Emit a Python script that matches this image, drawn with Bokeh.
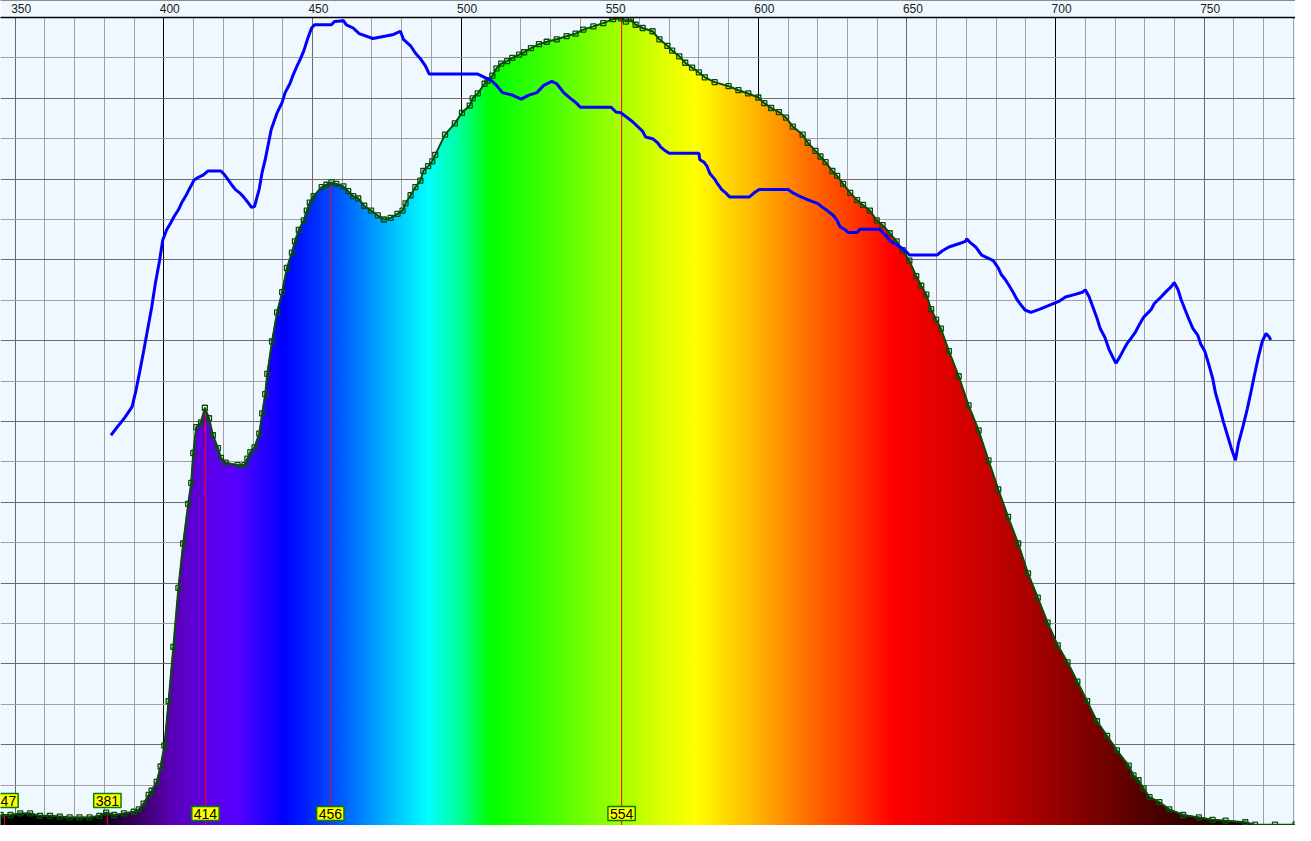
import numpy as np
from bokeh.plotting import figure
from bokeh.models import Range1d, FixedTicker, Grid, LinearAxis, Label
from bokeh.embed import file_html
from bokeh.resources import INLINE

# ---------------- data ----------------
spec_nm = [
    345.1, 348.4, 351.7, 355.0, 358.3, 361.7, 365.0, 368.3, 371.6, 375.0,
    378.3, 380.6, 383.3, 386.6, 389.9, 391.6, 393.2, 394.9, 395.9, 397.6,
    398.9, 400.2, 401.6, 403.2, 404.9, 406.5, 408.2, 409.2, 409.9, 410.9,
    412.5, 413.8, 415.2, 416.5, 418.2, 419.2, 420.8, 424.8, 427.1, 428.1,
    429.1, 430.5, 432.1, 433.1, 434.1, 434.8, 436.4, 438.1, 439.8, 441.4,
    443.1, 444.1, 445.4, 447.1, 448.1, 449.1, 450.4, 453.1, 454.7, 456.4,
    458.0, 460.4, 462.0, 463.7, 465.4, 467.4, 469.7, 472.0, 474.0, 476.3,
    478.6, 480.3, 481.3, 483.0, 484.6, 486.3, 487.3, 488.9, 490.3, 491.3,
    494.6, 497.9, 500.3, 502.9, 503.9, 505.6, 507.9, 508.9, 510.5, 511.9,
    513.5, 515.5, 517.2, 519.5, 521.2, 523.5, 526.2, 528.8, 532.2, 535.5,
    538.5, 541.1, 544.5, 547.8, 551.1, 553.8, 555.4, 557.1, 558.7, 561.1,
    564.4, 566.7, 569.4, 571.0, 573.4, 575.4, 577.7, 580.0, 582.0, 585.3,
    590.0, 593.3, 596.6, 600.0, 602.0, 604.3, 606.9, 609.3, 611.6, 614.9,
    616.6, 619.2, 620.9, 622.6, 624.9, 626.5, 628.5, 630.9, 633.2, 635.2,
    637.5, 639.8, 641.8, 644.2, 646.5, 648.5, 650.8, 653.1, 654.8, 656.5,
    658.1, 659.8, 661.4, 664.1, 667.4, 670.7, 674.1, 677.4, 680.7, 684.0,
    687.4, 690.7, 694.0, 697.3, 700.7, 704.0, 707.3, 710.6, 713.9, 717.3,
    720.6, 724.6, 726.2, 727.9, 729.6, 731.6, 734.9, 738.2, 742.9, 748.2,
    752.8, 757.2, 763.8, 767.1, 773.8, 780.7,
]
spec_val = [
    1.3, 1.3, 1.5, 1.5, 1.2, 1.2, 1.1, 1.0, 1.0, 1.0,
    1.2, 1.6, 1.3, 1.5, 1.7, 2.0, 2.7, 3.8, 4.3, 5.4,
    7.3, 9.9, 15.4, 22.1, 29.4, 34.9, 39.8, 42.4, 46.1, 49.3,
    49.9, 51.7, 50.4, 48.3, 46.7, 45.5, 44.9, 44.6, 44.6, 45.4,
    46.2, 46.8, 48.5, 51.0, 53.4, 55.9, 59.9, 63.5, 66.0, 69.0,
    70.9, 72.3, 73.7, 74.9, 76.1, 77.1, 77.9, 79.0, 79.3, 79.6,
    79.4, 79.1, 78.5, 77.9, 77.6, 76.7, 76.1, 75.5, 75.0, 75.2,
    75.7, 76.1, 77.0, 78.0, 79.0, 79.8, 81.0, 81.6, 82.2, 83.0,
    85.5, 86.9, 88.2, 89.1, 90.0, 90.6, 91.8, 92.2, 92.8, 93.7,
    94.3, 94.6, 95.0, 95.4, 95.7, 96.2, 96.7, 97.0, 97.3, 97.7,
    98.0, 98.5, 98.9, 99.3, 99.8, 99.9, 99.5, 99.8, 99.1, 98.7,
    98.3, 97.3, 96.5, 95.9, 95.2, 94.4, 93.8, 93.2, 92.6, 92.0,
    91.5, 91.0, 90.6, 90.1, 89.4, 88.8, 88.3, 87.6, 86.5, 85.5,
    84.5, 83.5, 82.8, 82.1, 81.0, 80.4, 79.4, 78.3, 77.4, 76.8,
    76.1, 74.9, 74.3, 73.3, 72.3, 71.2, 69.9, 68.0, 66.8, 65.7,
    63.9, 62.6, 61.5, 58.7, 55.6, 52.0, 48.9, 45.2, 41.6, 38.2,
    34.9, 31.2, 28.2, 25.1, 22.3, 20.2, 17.8, 15.4, 12.9, 11.1,
    9.3, 7.4, 6.2, 5.6, 4.6, 3.5, 2.9, 2.0, 1.3, 1.0,
    0.7, 0.6, 0.4, 0.1, 0.1, 0.1,
]

ref_nm = [
    382.2, 384.3, 386.9, 389.3, 390.6, 391.9, 393.2, 394.6, 395.9, 397.2,
    398.6, 399.6, 400.9, 402.2, 403.5, 404.9, 406.2, 407.5, 408.9, 410.2,
    411.5, 413.2, 414.8, 419.2, 420.5, 421.5, 422.8, 424.1, 425.5, 426.8,
    428.1, 429.5, 430.5, 432.1, 433.1, 434.1, 436.1, 438.1, 439.8, 440.8,
    442.4, 443.4, 444.8, 446.1, 447.1, 448.4, 449.7, 450.7, 456.4, 457.4,
    460.4, 461.4, 463.7, 465.7, 470.3, 474.7, 477.3, 479.6, 480.6, 483.0,
    484.6, 486.3, 488.0, 489.3, 505.6, 507.9, 510.2, 511.9, 513.9, 517.2,
    520.2, 522.8, 525.5, 527.8, 530.5, 532.2, 534.5, 536.8, 538.8, 540.1,
    550.4, 552.1, 553.8, 557.7, 561.1, 562.1, 564.4, 566.1, 567.1, 568.7,
    570.0, 580.0, 580.3, 581.7, 582.7, 583.7, 585.3, 586.3, 587.7, 589.3,
    590.3, 597.0, 598.6, 600.3, 610.0, 611.6, 614.3, 617.6, 619.9, 621.6,
    623.2, 625.2, 626.5, 627.5, 628.9, 630.2, 633.2, 634.2, 640.8, 641.8,
    643.2, 644.2, 645.8, 648.1, 649.8, 650.8, 660.1, 661.8, 664.1, 667.4,
    669.7, 670.1, 671.4, 673.1, 674.1, 675.1, 677.4, 679.0, 680.7, 681.7,
    683.0, 684.4, 685.7, 687.0, 688.4, 689.7, 691.7, 694.7, 698.0, 701.3,
    703.3, 706.3, 709.0, 710.0, 711.3, 712.6, 714.0, 715.0, 716.6, 717.9,
    719.3, 720.3, 721.6, 722.9, 724.3, 725.6, 726.9, 728.2, 729.6, 731.2,
    732.2, 733.2, 734.9, 736.2, 737.5, 738.9, 739.9, 741.2, 742.2, 743.5,
    744.9, 746.2, 747.8, 748.8, 750.2, 751.5, 752.8, 753.8, 755.2, 756.5,
    757.8, 759.1, 760.5, 761.5, 763.1, 764.5, 765.8, 766.8, 768.1, 769.5,
    770.8, 771.8, 772.4,
]
ref_val = [
    48.3, 49.3, 50.5, 51.8, 53.8, 56.2, 58.7, 61.5, 64.1, 67.2,
    70.0, 72.4, 73.7, 74.5, 75.4, 76.2, 77.2, 78.0, 79.0, 79.9,
    80.2, 80.5, 81.0, 81.0, 80.5, 80.0, 79.3, 78.7, 78.3, 77.8,
    77.2, 76.5, 76.6, 78.8, 80.9, 82.4, 86.1, 88.2, 89.5, 90.7,
    91.8, 92.8, 94.0, 95.0, 95.9, 97.4, 98.7, 99.1, 99.1, 99.5,
    99.6, 99.1, 98.7, 98.0, 97.4, 97.7, 97.9, 98.3, 97.3, 96.5,
    95.6, 94.9, 94.0, 93.0, 93.0, 92.6, 92.2, 91.6, 90.7, 90.4,
    89.9, 90.4, 90.7, 91.6, 92.1, 91.8, 90.7, 90.0, 89.4, 88.9,
    88.9, 88.3, 88.2, 87.1, 85.9, 85.2, 85.0, 84.5, 84.0, 83.5,
    83.2, 83.2, 82.4, 82.1, 81.6, 80.7, 80.0, 79.4, 78.7, 78.2,
    77.8, 77.8, 78.3, 78.7, 78.7, 78.3, 77.8, 77.3, 77.0, 76.5,
    76.1, 75.5, 74.9, 74.1, 73.8, 73.4, 73.4, 73.8, 73.8, 73.4,
    72.9, 72.4, 72.0, 71.5, 71.0, 70.6, 70.6, 71.1, 71.6, 72.0,
    72.3, 72.6, 72.1, 71.6, 71.1, 70.6, 70.2, 69.9, 69.0, 68.2,
    67.6, 66.8, 66.0, 65.1, 64.4, 63.8, 63.5, 63.9, 64.4, 64.9,
    65.4, 65.7, 66.0, 66.3, 65.4, 64.1, 62.7, 61.5, 60.4, 59.0,
    57.9, 57.2, 58.0, 58.9, 59.8, 60.4, 61.1, 62.0, 62.9, 63.5,
    63.9, 64.6, 65.2, 65.7, 66.2, 66.7, 67.2, 66.3, 65.1, 63.9,
    62.6, 61.5, 60.7, 59.6, 58.7, 57.1, 55.4, 53.5, 51.7, 49.9,
    48.3, 46.7, 45.2, 47.3, 49.5, 51.6, 53.8, 55.6, 57.8, 59.9,
    60.9, 60.5, 60.1,
]

marker_nm = [346.4, 381, 414, 456, 554]
marker_text = ["347", "381", "414", "456", "554"]
marker_row = [1, 1, 0, 0, 0]

tick_nm = [350, 400, 450, 500, 550, 600, 650, 700, 750]

# ---------------- style ----------------
grad_nm = [345, 375, 392, 402, 414, 425, 441, 456, 470, 489, 500, 510, 530,
           550, 565, 579, 597, 617, 634, 645, 677, 710, 740, 770, 781]
grad_rgb = [(0, 0, 0), (0, 0, 0), (60, 0, 100), (88, 0, 175), (95, 0, 228),
            (85, 0, 255), (0, 0, 255), (0, 70, 255), (0, 150, 255), (0, 255, 255),
            (0, 255, 150), (0, 255, 0), (70, 255, 0), (150, 255, 0), (210, 255, 0),
            (255, 255, 0), (255, 190, 0), (255, 110, 0), (255, 50, 0), (255, 0, 0),
            (200, 0, 0), (130, 0, 0), (60, 0, 0), (10, 0, 0), (0, 0, 0)]
BG = "#f0f8ff"
SPEC_LINE = "#0a4d0a"


def color_at(w):
    r = np.interp(w, grad_nm, [c[0] for c in grad_rgb])
    g = np.interp(w, grad_nm, [c[1] for c in grad_rgb])
    b = np.interp(w, grad_nm, [c[2] for c in grad_rgb])
    return "#%02x%02x%02x" % (int(round(r)), int(round(g)), int(round(b)))


W, H = 1295, 825
p = figure(width=W, height=H, x_range=Range1d(345.05, 780.7), y_range=Range1d(0, 100),
           output_backend="svg", toolbar_location=None, x_axis_location="above",
           y_axis_location=None, min_border=0, min_border_top=5,
           background_fill_color=BG, border_fill_color=BG, outline_line_color=None)

# top axis with labels set slightly to the right of the grid line
shift = 2
p.xaxis.ticker = FixedTicker(ticks=[t + shift for t in tick_nm])
p.xaxis.major_label_overrides = {t + shift: str(t) for t in tick_nm}
p.xaxis.major_tick_line_color = None
p.xaxis.minor_tick_line_color = None
p.xaxis.major_tick_out = 0
p.xaxis.major_tick_in = 0
p.xaxis.axis_line_color = "black"
p.xaxis.axis_line_width = 1.5
p.xaxis.major_label_standoff = 5
p.xaxis.major_label_text_font = "Liberation Sans"
p.xaxis.major_label_text_font_size = "12px"
p.xaxis.major_label_text_color = "#1a1a1a"

top_line = LinearAxis(ticker=FixedTicker(ticks=[]), axis_line_color="#8c8c8c",
                      major_tick_line_color=None, minor_tick_line_color=None,
                      major_tick_out=0, major_tick_in=0, major_label_standoff=0)
p.add_layout(top_line, "above")

p.grid.visible = False
minor_x = [t for t in range(350, 781, 10) if t % 50 != 0]
p.add_layout(Grid(dimension=0, ticker=FixedTicker(ticks=minor_x), grid_line_color="#a0a0a0"))
p.add_layout(Grid(dimension=0, ticker=FixedTicker(ticks=[t for t in tick_nm if t % 100 != 0]),
                  grid_line_color="#6a6a6a"))
p.add_layout(Grid(dimension=0, ticker=FixedTicker(ticks=[t for t in tick_nm if t % 100 == 0]),
                  grid_line_color="black"))
p.add_layout(Grid(dimension=1, ticker=FixedTicker(ticks=list(range(5, 100, 10))),
                  grid_line_color="#a0a0a0"))
p.add_layout(Grid(dimension=1, ticker=FixedTicker(ticks=list(range(10, 100, 10))),
                  grid_line_color="#6a6a6a"))

# rainbow fill under the spectrum, sliced along each segment
xs, ys, cols = [], [], []
for i in range(len(spec_nm) - 1):
    x0, x1 = spec_nm[i], spec_nm[i + 1]
    y0, y1 = spec_val[i], spec_val[i + 1]
    n = max(1, int(np.ceil((x1 - x0) / 0.5)))
    for k in range(n):
        a, b = k / n, (k + 1) / n
        xa, xb = x0 + (x1 - x0) * a, x0 + (x1 - x0) * b
        ya, yb = y0 + (y1 - y0) * a, y0 + (y1 - y0) * b
        xs.append([xa, xa, xb, xb])
        ys.append([0, ya, yb, 0])
        cols.append(color_at((xa + xb) / 2))
p.patches(xs, ys, fill_color=cols, line_color=cols, line_width=1.2)

# marker lines
marker_level = list(np.interp(marker_nm, spec_nm, spec_val))
p.segment(x0=marker_nm, y0=[0] * len(marker_nm), x1=marker_nm, y1=marker_level,
          line_color="#ff0000", line_width=1)

# spectrum outline with points
p.line(spec_nm, spec_val, line_color=SPEC_LINE, line_width=2)
p.scatter(spec_nm, spec_val, marker="square", size=5, fill_color=None,
          line_color=SPEC_LINE, line_width=1.3)

# blue reference curve
p.line(ref_nm, ref_val, line_color="#0000ff", line_width=3)

# marker labels
for nm, txt, row in zip(marker_nm, marker_text, marker_row):
    p.add_layout(Label(x=nm, y=12 + 13 * row, x_units="data", y_units="screen",
                       text=txt, text_align="center", text_baseline="middle",
                       text_font="Liberation Sans", text_font_size="14px", text_color="black",
                       background_fill_color="#ffff00", border_line_color="#008000",
                       border_line_width=1.5, padding=2))

open("out.html", "w").write(file_html(p, INLINE))
